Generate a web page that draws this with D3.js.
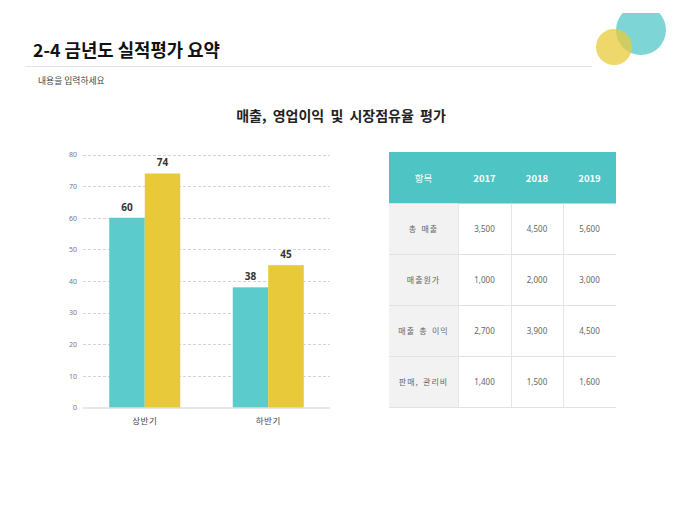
<!DOCTYPE html>
<html>
<head>
<meta charset="utf-8">
<script src="https://cdn.jsdelivr.net/npm/d3@7"></script>
<style>
  body { margin: 0; background: #fff; }
  svg { display: block; font-family: "Noto Sans CJK KR", "Noto Sans", sans-serif; }
</style>
</head>
<body>
<div id="chart"></div>
<script>
// chart data
const categories = ["상반기", "하반기"]
const seriesA = [60, 38]
const seriesB = [74, 45]
const yTicks = [0, 10, 20, 30, 40, 50, 60, 70, 80]

// table data
const tableHead = ["항목", "2017", "2018", "2019"]
const rowLabels = ["총 매출", "매출원가", "매출 총 이익", "판매, 관리비"]
const values2017 = [3500, 1000, 2700, 1400]
const values2018 = [4500, 2000, 3900, 1500]
const values2019 = [5600, 3000, 4500, 1600]

const teal = "#5ccbcb"
const yellow = "#e8c93a"
const width = 680, height = 510

const svg = d3.select("#chart").append("svg")
  .attr("width", width)
  .attr("height", height)

// decoration circles, clipped at the top
svg.append("clipPath").attr("id", "topclip")
  .append("rect").attr("x", 0).attr("y", 13).attr("width", width).attr("height", height)
const deco = svg.append("g").attr("clip-path", "url(#topclip)")
deco.append("circle").attr("cx", 641).attr("cy", 30).attr("r", 25)
  .attr("fill", "#5ccbcb").attr("opacity", 0.8)
deco.append("circle").attr("cx", 614).attr("cy", 47).attr("r", 18)
  .attr("fill", "#e8c93a").attr("opacity", 0.75)

// page heading
svg.append("text")
  .attr("x", 33).attr("y", 57)
  .attr("font-size", 17.8).attr("font-weight", "bold").attr("fill", "#111")
  .text("2-4 금년도 실적평가 요약")
svg.append("line")
  .attr("x1", 25).attr("x2", 592).attr("y1", 66.5).attr("y2", 66.5)
  .attr("stroke", "#dfe3ea")
svg.append("text")
  .attr("x", 38).attr("y", 84)
  .attr("font-size", 8.8).attr("fill", "#444")
  .text("내용을 입력하세요")

svg.append("text")
  .attr("x", 341).attr("y", 121)
  .attr("text-anchor", "middle")
  .attr("font-size", 14).attr("font-weight", "bold").attr("fill", "#222")
  .attr("word-spacing", 3)
  .text("매출, 영업이익 및 시장점유율 평가")

// bar chart
const plot = { left: 83, right: 330, top: 154.5, bottom: 407.5 }

const x = d3.scaleBand()
  .domain(categories)
  .range([plot.left, plot.right])
  .paddingInner(0.425)
  .paddingOuter(0.2125)

const xInner = d3.scaleBand()
  .domain(["a", "b"])
  .range([0, x.bandwidth()])

const y = d3.scaleLinear()
  .domain([0, 80])
  .range([plot.bottom, plot.top])

svg.append("g")
  .selectAll("line")
  .data(yTicks.filter(d => d > 0))
  .join("line")
  .attr("x1", plot.left).attr("x2", plot.right)
  .attr("y1", d => Math.round(y(d)) + 0.5).attr("y2", d => Math.round(y(d)) + 0.5)
  .attr("stroke", "#d4d4d4")
  .attr("stroke-dasharray", "3,2")

const yAxis = svg.append("g")
  .attr("transform", `translate(${plot.left},0)`)
  .call(d3.axisLeft(y).tickValues(yTicks).tickSize(0).tickPadding(6))
yAxis.select(".domain").remove()
yAxis.selectAll("text").attr("font-size", 7).attr("fill", "#777")
  .style("font-family", "'Noto Sans', sans-serif")

const groups = categories.map((c, i) => ({ cat: c, a: seriesA[i], b: seriesB[i] }))

const g = svg.append("g")
  .selectAll("g")
  .data(groups)
  .join("g")
  .attr("transform", d => `translate(${x(d.cat)},0)`)

const keys = [{ k: "a", color: teal }, { k: "b", color: yellow }]
for (const { k, color } of keys) {
  g.append("rect")
    .attr("x", xInner(k))
    .attr("y", d => y(d[k]))
    .attr("width", xInner.bandwidth())
    .attr("height", d => y(0) - y(d[k]))
    .attr("fill", color)
  g.append("text")
    .attr("x", xInner(k) + xInner.bandwidth() / 2)
    .attr("y", d => y(d[k]) - 7)
    .attr("text-anchor", "middle")
    .attr("font-size", 10).attr("font-weight", "bold").attr("fill", "#333")
    .style("font-family", "'Noto Sans', sans-serif")
    .text(d => d[k])
}

const xAxis = svg.append("g")
  .attr("transform", `translate(0,${plot.bottom})`)
  .call(d3.axisBottom(x).tickSize(0).tickPadding(10))
xAxis.select(".domain").attr("stroke", "#cfcfcf").attr("d", `M${plot.left},0.5H${plot.right}`)
xAxis.selectAll("text").attr("font-size", 8.5).attr("fill", "#444")
  .attr("letter-spacing", 0.5)
  .style("font-family", "'Noto Sans CJK KR', sans-serif")

// table
const colEdges = [389, 458, 511, 563, 616]
const headTop = 152, headBottom = 203.5, rowH = 51

const rowY = d3.scaleBand()
  .domain(d3.range(rowLabels.length))
  .range([headBottom, headBottom + rowH * rowLabels.length])

const table = svg.append("g")
table.append("rect")
  .attr("x", colEdges[0]).attr("y", headTop)
  .attr("width", colEdges[4] - colEdges[0]).attr("height", headBottom - headTop)
  .attr("fill", "#4fc4c4")
table.append("rect")
  .attr("x", colEdges[0]).attr("y", headBottom)
  .attr("width", colEdges[1] - colEdges[0]).attr("height", rowH * rowLabels.length)
  .attr("fill", "#f2f2f2")

table.selectAll(".hd")
  .data(tableHead)
  .join("text")
  .attr("x", (d, i) => (colEdges[i] + colEdges[i + 1]) / 2)
  .attr("y", (headTop + headBottom) / 2 + 4)
  .attr("text-anchor", "middle")
  .attr("font-size", 9.5)
  .attr("font-weight", (d, i) => i ? "bold" : "normal")
  .attr("fill", "#fff")
  .text(d => d)

// grid lines of the body
table.selectAll(".hl")
  .data(d3.range(1, rowLabels.length + 1))
  .join("line")
  .attr("x1", colEdges[0]).attr("x2", colEdges[4])
  .attr("y1", d => rowY(d - 1) + rowH).attr("y2", d => rowY(d - 1) + rowH)
  .attr("stroke", "#e2e2e2")
table.selectAll(".vl")
  .data([1, 2, 3])
  .join("line")
  .attr("x1", d => colEdges[d] + 0.5).attr("x2", d => colEdges[d] + 0.5)
  .attr("y1", headBottom).attr("y2", headBottom + rowH * rowLabels.length)
  .attr("stroke", "#e6e6e6")

const fmt = d3.format(",")
const cols = [values2017, values2018, values2019]
const rows = rowLabels.map((label, i) => [label, ...cols.map(c => fmt(c[i]))])

rows.forEach((r, ri) => {
  table.selectAll(null)
    .data(r)
    .join("text")
    .attr("x", (d, i) => (colEdges[i] + colEdges[i + 1]) / 2)
    .attr("y", rowY(ri) + rowH / 2 + 3)
    .attr("text-anchor", "middle")
    .attr("font-size", 8)
    .attr("fill", "#666")
    .attr("letter-spacing", (d, i) => i ? 0 : 1)
    .attr("word-spacing", (d, i) => i ? 0 : 1.5)
    .style("font-family", (d, i) => i ? "'Noto Sans', sans-serif" : null)
    .text(d => d)
})
</script>
</body>
</html>
